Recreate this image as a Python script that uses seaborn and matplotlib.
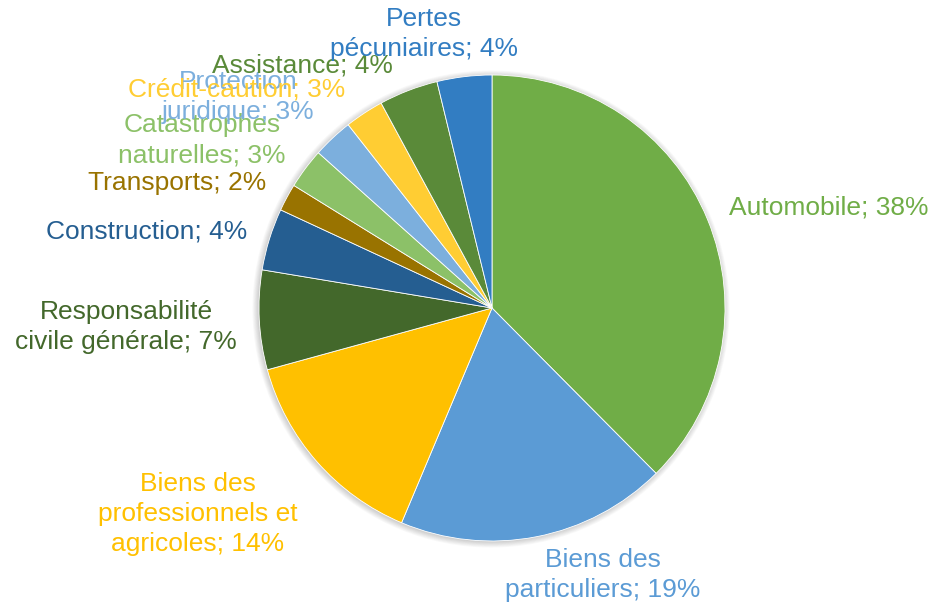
import numpy as np
import pandas as pd
import matplotlib
matplotlib.use("Agg")
import matplotlib.pyplot as plt
from matplotlib.patches import Circle
import seaborn as sns

# branches, clockwise from the top
categories = ["Automobile", "Biens des\nparticuliers", "Biens des\nprofessionnels et\nagricoles",
              "Responsabilité\ncivile générale", "Construction", "Transports",
              "Catastrophes\nnaturelles", "Protection\njuridique", "Crédit-caution",
              "Assistance", "Pertes\npécuniaires"]
shares = [37.6, 18.8, 14.4, 6.9, 4.3, 1.9, 2.8, 2.8, 2.7, 4.1, 3.8]
slice_colors = ["#70AD47", "#5B9BD5", "#FFC000", "#43682B", "#255E91", "#997300",
                "#8CC168", "#7CAFDD", "#FFCD33", "#5A8A39", "#327DC2"]

df = pd.DataFrame({"branche": categories, "part": shares})
df["label"] = [f"{c}; {round(v)}%" for c, v in zip(df["branche"], df["part"])]

sns.set_theme(style="white")
plt.rcParams["font.family"] = ["Liberation Sans", "DejaVu Sans"]
palette = sns.color_palette(slice_colors)

W, H = 938, 603
cx, cy, R = 492, H - 308, 233

# label block centres in pixels (from top-left), same order as categories
label_xy = [(829, 208), (603, 575), (198, 514), (126, 327), (147, 232), (177, 183),
            (202, 140), (238, 97), (237, 90), (302, 65), (424, 34)]

fig = plt.figure(figsize=(W / 100, H / 100), dpi=100)
ax = fig.add_axes([0, 0, 1, 1])

# soft shadow like the Excel effect
for i in range(8):
    ax.add_patch(Circle((cx - 1, cy - 1), R + 0.8 * i, color="black", alpha=0.025, lw=0, zorder=0))

ax.pie(df["part"], colors=palette, startangle=90, counterclock=False,
       center=(cx, cy), radius=R,
       wedgeprops=dict(linewidth=0.6, edgecolor="white"))

for (x, y), txt, col in zip(label_xy, df["label"], palette):
    ax.text(x, H - y, txt, color=col, fontsize=19, ha="center", va="center",
            multialignment="center", linespacing=1.34)

ax.set_xlim(0, W)
ax.set_ylim(0, H)
ax.set_aspect("equal")
ax.axis("off")

fig.savefig("out.png", dpi=100)
